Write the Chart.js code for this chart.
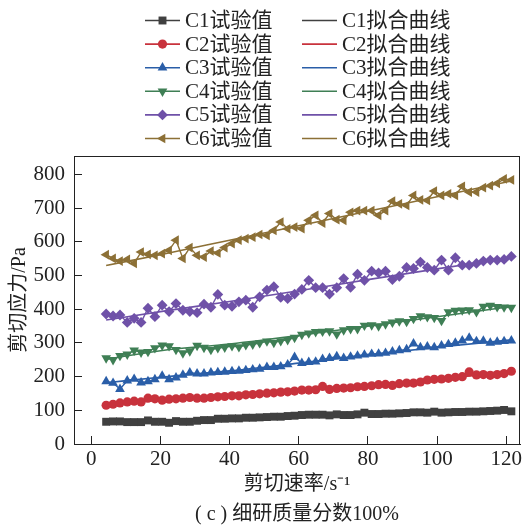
<!DOCTYPE html>
<html>
<head>
<meta charset="utf-8">
<script src="https://cdn.jsdelivr.net/npm/chart.js@4"></script>
<style>
    html, body { margin: 0; padding: 0; background: #fff; }
</style>
</head>
<body>
<canvas id="shearChart" width="528" height="530"></canvas>
<script>
// shear rate (s^-1) of each test point
const shearRate = [
    4.3, 6.3, 8.3, 10.4, 12.4, 14.4, 16.4, 18.4, 20.5, 22.5,
    24.5, 26.5, 28.5, 30.6, 32.6, 34.6, 36.6, 38.6, 40.7, 42.7,
    44.7, 46.7, 48.7, 50.8, 52.8, 54.8, 56.8, 58.8, 60.9, 62.9,
    64.9, 66.9, 68.9, 71.0, 73.0, 75.0, 77.0, 79.0, 81.1, 83.1,
    85.1, 87.1, 89.1, 91.2, 93.2, 95.2, 97.2, 99.2, 101.3, 103.3,
    105.3, 107.3, 109.3, 111.4, 113.4, 115.4, 117.4, 119.4, 121.5
];

// measured shear stress (Pa)
const c1Test = [
    66, 67, 67, 65, 65, 65, 70, 66, 66, 63,
    68, 66, 66, 69, 71, 71, 75, 75, 76, 76,
    78, 78, 79, 80, 81, 81, 83, 84, 86, 87,
    87, 87, 85, 88, 86, 86, 88, 93, 89, 89,
    90, 90, 91, 92, 94, 94, 93, 96, 93, 94,
    95, 95, 96, 96, 97, 98, 99, 101, 97
];
const c2Test = [
    115, 118, 122, 125, 127, 125, 136, 134, 130, 133,
    134, 136, 138, 136, 136, 138, 140, 141, 143, 143,
    146, 147, 149, 151, 152, 154, 155, 157, 160, 160,
    161, 171, 162, 165, 166, 167, 170, 171, 173, 176,
    177, 174, 179, 181, 181, 184, 190, 192, 193, 195,
    198, 200, 214, 205, 206, 204, 206, 209, 216
];
const c3Test = [
    186, 181, 163, 188, 193, 182, 186, 192, 202, 192,
    197, 205, 212, 209, 209, 212, 213, 214, 216, 217,
    219, 221, 223, 228, 228, 230, 236, 258, 240, 243,
    244, 252, 255, 260, 255, 259, 262, 265, 267, 268,
    270, 274, 278, 281, 298, 287, 289, 287, 292, 296,
    300, 307, 315, 305, 306, 300, 303, 305, 307
];
const c4Test = [
    255, 250, 262, 266, 278, 272, 274, 285, 293, 291,
    280, 270, 276, 292, 286, 280, 285, 287, 291, 288,
    294, 296, 300, 305, 301, 306, 309, 316, 325, 329,
    333, 334, 335, 326, 338, 342, 342, 352, 353, 350,
    356, 361, 365, 363, 372, 380, 377, 375, 366, 392,
    396, 397, 398, 392, 408, 411, 407, 406, 405
];
const c5Test = [
    386, 380, 383, 361, 373, 361, 403, 378, 412, 393,
    417, 397, 393, 390, 415, 406, 444, 412, 409, 422,
    427, 406, 437, 457, 467, 435, 432, 445, 459, 486,
    464, 464, 445, 464, 491, 465, 504, 486, 513, 508,
    513, 488, 498, 524, 521, 540, 524, 516, 546, 516,
    553, 531, 531, 536, 543, 546, 546, 548, 557
];
const c6Test = [
    562, 551, 543, 548, 536, 570, 563, 560, 565, 575,
    605, 551, 583, 560, 555, 573, 567, 583, 595, 605,
    610, 614, 622, 619, 634, 659, 639, 644, 639, 664,
    679, 656, 684, 666, 664, 688, 693, 693, 693, 679,
    693, 721, 713, 708, 738, 725, 723, 751, 738, 743,
    738, 765, 748, 748, 761, 767, 774, 787, 784
];

// fitted curves, read at a few shear rates
const fitRate = [4.3, 20, 40, 60, 80, 100, 121.5];
const c1Fit = [64, 70, 77, 84, 90, 95, 100];
const c2Fit = [116, 130, 144, 160, 176, 193, 213];
const c3Fit = [182, 198, 217, 240, 264, 287, 309];
const c4Fit = [252, 277, 297, 322, 350, 378, 408];
const c5Fit = [368, 393, 423, 455, 488, 520, 553];
const c6Fit = [530, 562, 605, 648, 691, 734, 781];

const xTicks = [0, 20, 40, 60, 80, 100, 120];
const yTicks = [0, 100, 200, 300, 400, 500, 600, 700, 800];

const names = ['C1', 'C2', 'C3', 'C4', 'C5', 'C6'];
const colors = ['#404040', '#c8323c', '#2a5ea8', '#3f7f55', '#6f51a8', '#8c7036'];
const markers = [
    { style: 'rect', radius: 5.6, rotation: 0 },
    { style: 'circle', radius: 4.6, rotation: 0 },
    { style: 'triangle', radius: 5.6, rotation: 0 },
    { style: 'triangle', radius: 5.6, rotation: 180 },
    { style: 'rectRot', radius: 5.4, rotation: 0 },
    { style: 'triangle', radius: 5.6, rotation: 270 },
];
const tests = [c1Test, c2Test, c3Test, c4Test, c5Test, c6Test];
const fits = [c1Fit, c2Fit, c3Fit, c4Fit, c5Fit, c6Fit];

const FONT = "'Liberation Serif', 'Noto Sans CJK SC', serif";

const toPoints = (xs, ys) => xs.map((x, i) => ({ x, y: ys[i] }));

const testSets = tests.map((ys, i) => ({
    label: names[i] + '试验值',
    data: toPoints(shearRate, ys),
    showLine: true,
    borderColor: colors[i],
    backgroundColor: colors[i],
    borderWidth: 1.4,
    pointStyle: markers[i].style,
    pointRadius: markers[i].radius,
    pointRotation: markers[i].rotation,
    pointBorderWidth: 0,
    pointHoverRadius: markers[i].radius,
}));

const fitSets = fits.map((ys, i) => ({
    label: names[i] + '拟合曲线',
    data: toPoints(fitRate, ys),
    showLine: true,
    borderColor: colors[i],
    backgroundColor: colors[i],
    borderWidth: 1.6,
    pointRadius: 0,
    pointHoverRadius: 0,
    cubicInterpolationMode: 'monotone',
}));

// two column legend above the plot: test values left, fitted curves right
const legendBlock = {
    id: 'legendBlock',
    afterDraw(chart) {
        const ctx = chart.ctx;
        ctx.save();
        ctx.font = '21px ' + FONT;
        ctx.textBaseline = 'middle';
        chart.data.datasets.forEach((ds, i) => {
            const col = i < 6 ? 0 : 1;
            const row = i % 6;
            const y = 20.5 + row * 23.6;
            const x0 = col === 0 ? 145 : 302;
            ctx.strokeStyle = ds.borderColor;
            ctx.fillStyle = ds.borderColor;
            ctx.lineWidth = 1.6;
            ctx.beginPath();
            ctx.moveTo(x0, y);
            ctx.lineTo(x0 + 35, y);
            ctx.stroke();
            if (ds.pointRadius > 0) {
                Chart.helpers.drawPoint(ctx, {
                    pointStyle: ds.pointStyle,
                    radius: ds.pointRadius,
                    rotation: ds.pointRotation,
                    borderWidth: 0,
                }, x0 + 17.5, y);
            }
            ctx.fillStyle = '#222';
            ctx.fillText(ds.label, x0 + 40, y + 1);
        });
        ctx.restore();
    }
};

// closed frame round the plot area
const plotFrame = {
    id: 'plotFrame',
    afterDatasetsDraw(chart) {
        const { ctx, chartArea: a } = chart;
        ctx.save();
        ctx.strokeStyle = '#222';
        ctx.lineWidth = 1;
        ctx.strokeRect(a.left + 0.5, a.top + 0.5, a.right - a.left - 1, a.bottom - a.top);
        ctx.restore();
    }
};

new Chart(document.getElementById('shearChart'), {
    type: 'scatter',
    data: { datasets: [...testSets, ...fitSets] },
    options: {
        responsive: false,
        animation: false,
        devicePixelRatio: 1,
        layout: { padding: { top: 156, right: 8, left: 0, bottom: 0 } },
        plugins: {
            legend: { display: false },
            tooltip: { enabled: false },
        },
        scales: {
            x: {
                type: 'linear',
                min: -5,
                max: 124,
                afterBuildTicks: (s) => { s.ticks = xTicks.map((v) => ({ value: v })); },
                afterFit: (s) => { s.height = 86; s.paddingLeft = 0; s.paddingRight = 0; },
                grid: { drawOnChartArea: false, tickLength: -8, color: '#222' },
                border: { color: '#222' },
                ticks: { color: '#222', padding: 11, maxRotation: 0, font: { family: FONT, size: 21 } },
                title: {
                    display: true,
                    text: ['剪切速率/s⁻¹', '( c ) 细研质量分数100%'],
                    color: '#222',
                    padding: 0,
                    font: { family: FONT, size: 20, lineHeight: 1.5 },
                },
            },
            y: {
                min: 0,
                max: 855,
                afterBuildTicks: (s) => { s.ticks = yTicks.map((v) => ({ value: v })); },
                afterFit: (s) => { s.width = 74; s.paddingTop = 0; s.paddingBottom = 0; },
                grid: { drawOnChartArea: false, tickLength: -8, color: '#222' },
                border: { color: '#222' },
                ticks: { color: '#222', padding: 17, font: { family: FONT, size: 21 } },
                title: {
                    display: true,
                    text: '剪切应力/Pa',
                    color: '#222',
                    padding: { top: 8, bottom: 0 },
                    font: { family: FONT, size: 20 },
                },
            },
        },
    },
    plugins: [legendBlock, plotFrame],
});
</script>
</body>
</html>
